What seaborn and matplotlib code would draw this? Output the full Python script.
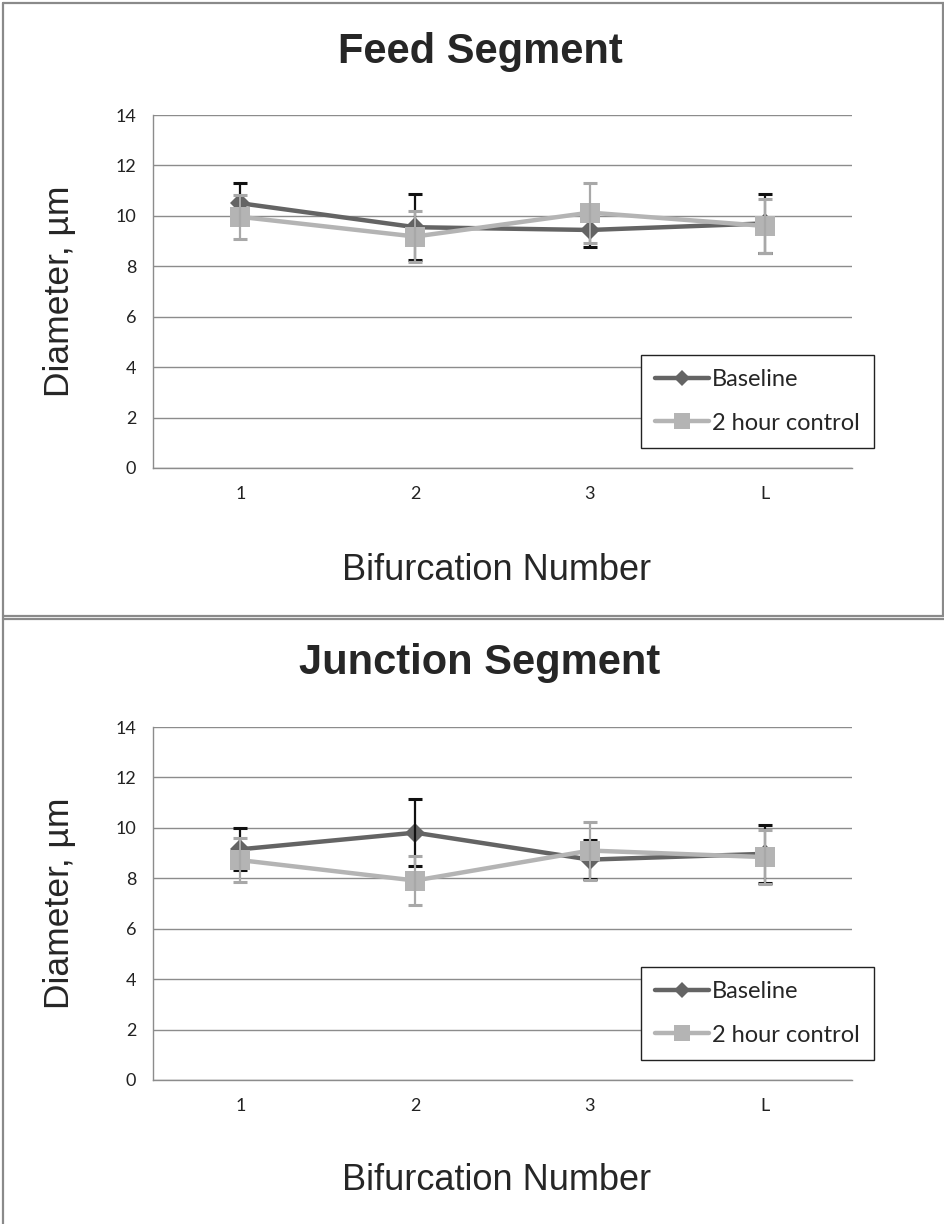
import numpy as np
import pandas as pd
import matplotlib
matplotlib.use("Agg")
import matplotlib.pyplot as plt
from matplotlib.lines import Line2D
import seaborn as sns

# ---- data -------------------------------------------------------------
categories = ["1", "2", "3", "L"]
series_names = ["Baseline", "2 hour control"]

feed_baseline = [10.5, 9.55, 9.44, 9.7]
feed_baseline_err = [0.82, 1.32, 0.68, 1.16]
feed_control = [9.96, 9.18, 10.13, 9.6]
feed_control_err = [0.87, 1.0, 1.19, 1.07]

junction_baseline = [9.15, 9.81, 8.74, 8.97]
junction_baseline_err = [0.84, 1.34, 0.76, 1.14]
junction_control = [8.72, 7.91, 9.1, 8.84]
junction_control_err = [0.87, 0.98, 1.15, 1.07]

y_ticks = [0, 2, 4, 6, 8, 10, 12, 14]
panel_titles = ["Feed Segment", "Junction Segment"]
x_label = "Bifurcation Number"
y_label = "Diameter, µm"


def long_frame(base, base_err, ctrl, ctrl_err):
    pos = np.arange(len(categories))
    rows = []
    for name, vals, errs in ((series_names[0], base, base_err),
                             (series_names[1], ctrl, ctrl_err)):
        for p, c, v, e in zip(pos, categories, vals, errs):
            rows.append({"pos": p, "category": c, "series": name,
                         "value": v, "err": e})
    return pd.DataFrame(rows)


panels = [
    long_frame(feed_baseline, feed_baseline_err, feed_control, feed_control_err),
    long_frame(junction_baseline, junction_baseline_err,
               junction_control, junction_control_err),
]

# ---- style --------------------------------------------------------------
sns.set_theme(style="white")
plt.rcParams["font.family"] = ["Liberation Sans", "DejaVu Sans"]

dark = "#646464"
light = "#b4b4b4"
dark_err = "#111111"
light_err = "#a8a8a8"
grid_col = "#8c8c8c"
frame_col = "#8a8a8a"
tick_font = "Lato"

styles = {
    series_names[0]: dict(color=dark, marker="D", ms=10, ecolor=dark_err, z=2),
    series_names[1]: dict(color=light, marker="s", ms=15, ecolor=light_err, z=4),
}

fig = plt.figure(figsize=(9.45, 12.24), dpi=100)
W, H = 945.0, 1224.0

axes_px = [(153, 115, 852, 468), (153, 727, 852, 1080)]
title_y = [52, 663]
xlabel_y = [570, 1180]

for df, (l, t, r, b), ty, xy, title in zip(panels, axes_px, title_y, xlabel_y,
                                            panel_titles):
    ax = fig.add_axes([l / W, 1 - b / H, (r - l) / W, (b - t) / H])
    for name in series_names:
        st = styles[name]
        sub = df[df["series"] == name]
        sns.lineplot(data=sub, x="pos", y="value", ax=ax, color=st["color"],
                     marker=st["marker"], markersize=st["ms"],
                     markeredgewidth=0, linewidth=3.2, label=name,
                     zorder=st["z"], errorbar=None)
        ax.errorbar(sub["pos"], sub["value"], yerr=sub["err"], fmt="none",
                    ecolor=st["ecolor"], elinewidth=1.6, capsize=5,
                    capthick=2.2, zorder=st["z"] + 1)

    ax.set_xlim(-0.5, len(categories) - 0.5)
    ax.set_ylim(0, 14)
    ax.set_yticks(y_ticks)
    ax.set_yticklabels([str(v) for v in y_ticks], fontsize=13,
                       family=tick_font)
    ax.set_xticks(np.arange(len(categories)))
    ax.set_xticklabels(categories, fontsize=13, family=tick_font)
    ax.set_xticks(np.arange(len(categories) + 1) - 0.5, minor=True)
    ax.tick_params(axis="x", which="major", length=0, pad=13, colors="#222222")
    ax.tick_params(axis="x", which="minor", length=5, width=1,
                   color=grid_col, direction="out")
    ax.tick_params(axis="y", which="major", length=5, width=1,
                   direction="out", pad=7, colors="#222222")
    ax.tick_params(axis="y", color=grid_col)
    ax.yaxis.grid(True, color=grid_col, linewidth=1)
    ax.set_axisbelow(True)
    for side in ("top", "right"):
        ax.spines[side].set_visible(False)
    for side in ("left", "bottom"):
        ax.spines[side].set_color(grid_col)
        ax.spines[side].set_linewidth(1)
    ax.set_xlabel("")
    ax.set_ylabel("")

    handles = [
        Line2D([], [], color=styles[n]["color"], marker=styles[n]["marker"],
               markersize=styles[n]["ms"] * 0.8, markeredgewidth=0,
               linewidth=3.2)
        for n in series_names
    ]
    leg = ax.legend(handles, series_names, loc="lower left",
                    bbox_to_anchor=(0.698, 0.057), frameon=True,
                    fancybox=False, framealpha=1, edgecolor="#222222",
                    prop={"family": tick_font, "size": 17},
                    handlelength=2.3, handletextpad=0.1, labelspacing=0.95,
                    borderpad=0.6, borderaxespad=0)
    leg.get_frame().set_linewidth(1)
    leg.set_zorder(10)

    fig.text(480 / W, 1 - ty / H, title, ha="center", va="center",
             fontsize=30, fontweight="bold")
    fig.text(497 / W, 1 - xy / H, x_label, ha="center", va="center",
             fontsize=26)
    fig.text(60 / W, 1 - ((t + b) / 2) / H, y_label, ha="center",
             va="center", rotation=90, fontsize=25.5)

# chart frames
frame_lines = [
    ([3, 3], [3, 1224]),
    ([3, 945], [3, 3]),
    ([943, 943], [3, 616]),
    ([3, 945], [616, 616]),
    ([3, 945], [619, 619]),
]
for xs, ys in frame_lines:
    fig.add_artist(Line2D([x / W for x in xs], [1 - y / H for y in ys],
                          color=frame_col, linewidth=1.6,
                          transform=fig.transFigure))

fig.savefig("out.png", dpi=100, facecolor="white")
